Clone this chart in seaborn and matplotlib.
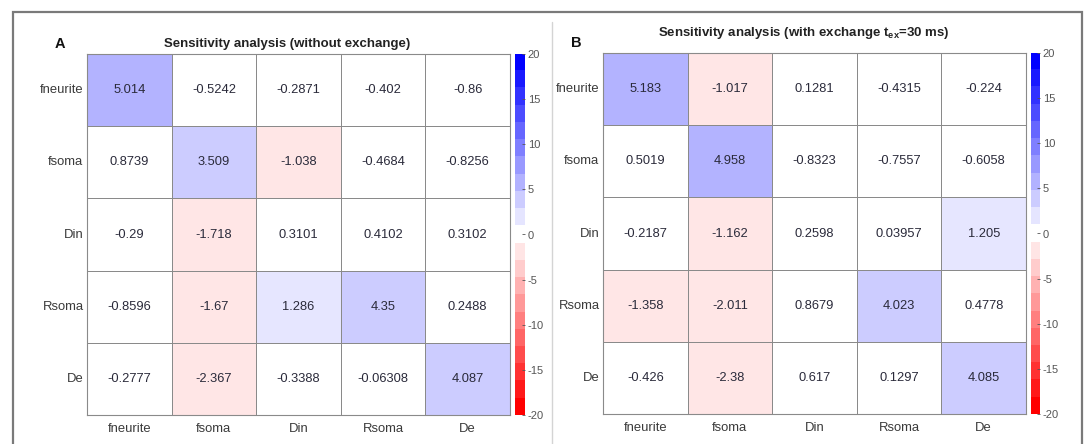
import numpy as np
import pandas as pd
import matplotlib
matplotlib.use("Agg")
import matplotlib.pyplot as plt
from matplotlib.colors import ListedColormap
from matplotlib.patches import Rectangle
from matplotlib.lines import Line2D
import seaborn as sns

params = ["fneurite", "fsoma", "Din", "Rsoma", "De"]

sens_without = [
    [5.014, -0.5242, -0.2871, -0.402, -0.86],
    [0.8739, 3.509, -1.038, -0.4684, -0.8256],
    [-0.29, -1.718, 0.3101, 0.4102, 0.3102],
    [-0.8596, -1.67, 1.286, 4.35, 0.2488],
    [-0.2777, -2.367, -0.3388, -0.06308, 4.087],
]
sens_with = [
    [5.183, -1.017, 0.1281, -0.4315, -0.224],
    [0.5019, 4.958, -0.8323, -0.7557, -0.6058],
    [-0.2187, -1.162, 0.2598, 0.03957, 1.205],
    [-1.358, -2.011, 0.8679, 4.023, 0.4778],
    [-0.426, -2.38, 0.617, 0.1297, 4.085],
]
cbar_ticks = [-20, -15, -10, -5, 0, 5, 10, 15, 20]
VMIN, VMAX, NLEV = -20, 20, 21

sns.set_style("white")
plt.rcParams["font.family"] = ["Liberation Sans", "DejaVu Sans"]
plt.rcParams["axes.unicode_minus"] = False
plt.rcParams["mathtext.fontset"] = "custom"
plt.rcParams["mathtext.rm"] = "Liberation Sans:bold"
plt.rcParams["mathtext.it"] = "Liberation Sans:bold"

# 21-level red-white-blue colormap
cols = []
for k in range(-10, 11):
    f = abs(k) / 10.0
    if k < 0:
        cols.append((1.0, 1 - f, 1 - f))
    else:
        cols.append((1 - f, 1 - f, 1.0))
cmap = ListedColormap(cols)

W, H = 1086, 444
fig = plt.figure(figsize=(W / 100, H / 100), dpi=100)


def fx(px):
    return px / W


def fy(py):
    return 1 - py / H


def panel(data, hm_box, cb_box):
    x0, y0, x1, y1 = hm_box
    ax = fig.add_axes([fx(x0), fy(y1), fx(x1 - x0), (y1 - y0) / H])
    c0, _, c1, _ = cb_box
    cax = fig.add_axes([fx(c0), fy(y1), fx(c1 - c0), (y1 - y0) / H])
    df = pd.DataFrame(data, index=params, columns=params)
    annot = np.array([[f"{v:.4g}" for v in row] for row in data])
    sns.heatmap(df, ax=ax, cbar=False, cmap=cmap, vmin=VMIN, vmax=VMAX,
                annot=annot, fmt="", linewidths=0.6, linecolor="#8a8a8a",
                annot_kws={"fontsize": 9.3, "color": "#2a2a3a"})
    ax.tick_params(axis="both", length=0, labelsize=9.4, colors="#3a3a3a")
    ax.tick_params(axis="y", pad=2.5, rotation=0)
    ax.tick_params(axis="x", pad=6)
    for t in ax.get_yticklabels():
        t.set_rotation(0)
    for s in ax.spines.values():
        s.set_visible(True)
        s.set_color("#8a8a8a")
        s.set_linewidth(0.8)
    # colour scale drawn as an image of the level centres
    step = (VMAX - VMIN) / NLEV
    levels = VMIN + step * (np.arange(NLEV) + 0.5)
    cax.imshow(levels[::-1, None], cmap=cmap, vmin=VMIN, vmax=VMAX,
               aspect="auto", interpolation="nearest",
               extent=[0, 1, VMIN, VMAX])
    cax.set_xticks([])
    cax.yaxis.tick_right()
    cax.set_yticks(cbar_ticks)
    cax.set_yticklabels([str(t) for t in cbar_ticks])
    cax.set_ylim(VMIN, VMAX)
    cax.tick_params(axis="y", labelsize=8, colors="#555555", length=2.5,
                    width=0.6, direction="in", pad=2, right=True, left=False)
    for s in cax.spines.values():
        s.set_visible(False)
    return ax


panel(sens_without, (87, 54, 510, 415), (515, 54, 525, 415))
panel(sens_with, (603, 53, 1026, 414), (1031, 53, 1040, 414))

# titles and panel letters
fig.text(fx(287), fy(44), "Sensitivity analysis (without exchange)",
         ha="center", va="center", fontsize=9.5, fontweight="bold", color="#222222")
fig.text(fx(804), fy(33), r"Sensitivity analysis (with exchange t$_{\mathrm{ex}}$=30 ms)",
         ha="center", va="center", fontsize=9.5, fontweight="bold", color="#222222")
fig.text(fx(60), fy(44), "A", ha="center", va="center", fontsize=10.5,
         fontweight="bold", color="#111111")
fig.text(fx(576), fy(43), "B", ha="center", va="center", fontsize=10.5,
         fontweight="bold", color="#111111")

# outer frame and divider
fig.patches.append(Rectangle((fx(12.5), -0.05), fx(1082 - 12.5), fy(12.5) + 0.05,
                             transform=fig.transFigure, fill=False,
                             edgecolor="#7a7a7a", linewidth=1.6))
fig.lines.append(Line2D([fx(552), fx(552)], [0, fy(22)], transform=fig.transFigure,
                        color="#d4d4d4", linewidth=1.0))

fig.savefig("out.png", dpi=100, facecolor="white")
